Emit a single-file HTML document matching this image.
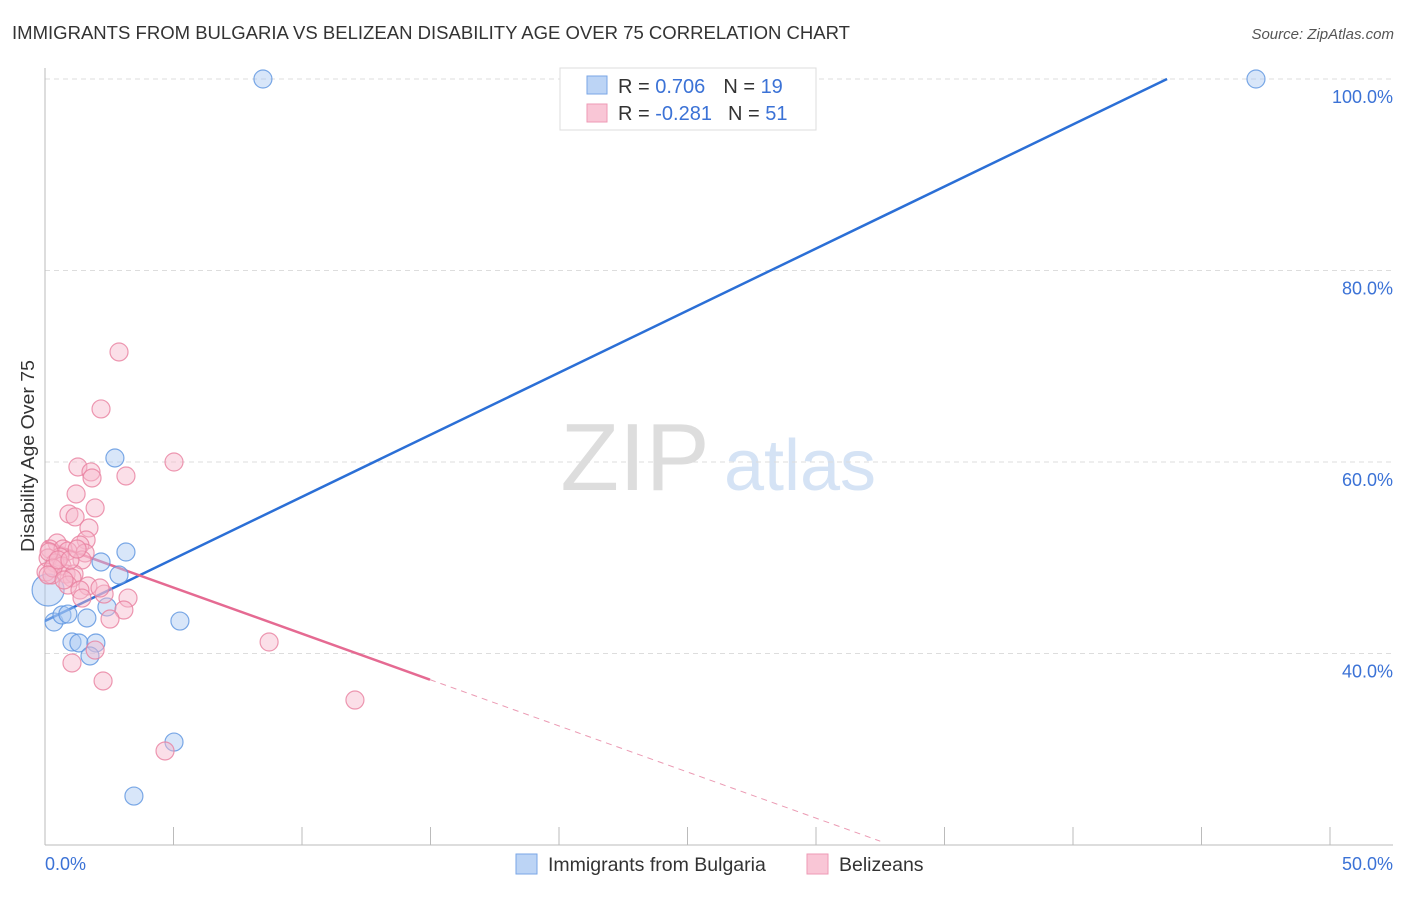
<!DOCTYPE html>
<html><head><meta charset="utf-8"><style>
body{margin:0;background:#fff;font-family:"Liberation Sans",sans-serif}
svg text{font-family:"Liberation Sans",sans-serif}
</style></head><body>
<svg width="1406" height="892" xmlns="http://www.w3.org/2000/svg">
<text x="12" y="39" font-size="18" fill="#333" textLength="838" lengthAdjust="spacingAndGlyphs">IMMIGRANTS FROM BULGARIA VS BELIZEAN DISABILITY AGE OVER 75 CORRELATION CHART</text>
<text x="1394" y="39" font-size="15" fill="#555" font-style="italic" text-anchor="end">Source: ZipAtlas.com</text>
<g>
<text x="635" y="490" font-size="96" fill="#ddd" font-family="Liberation Serif,serif" text-anchor="middle">ZIP</text>
<text x="800" y="490" font-size="72" fill="#d5e3f5" text-anchor="middle">atlas</text>
</g>
<g id="grid"></g>
<g id="axes"></g>
<g id="lines"></g>
<g id="pts"></g>
<text transform="translate(34,456) rotate(-90)" font-size="18" fill="#333" text-anchor="middle" textLength="192" lengthAdjust="spacingAndGlyphs">Disability Age Over 75</text>
<text x="45" y="870" font-size="18" fill="#3b72d6">0.0%</text>
<text x="1393" y="870" font-size="18" fill="#3b72d6" text-anchor="end">50.0%</text>
<g>
<rect x="560" y="68" width="256" height="62" fill="#fff" stroke="#ddd"/>
<rect x="587" y="76" width="20" height="18" fill="#bcd4f5" stroke="#7aa6e6"/>
<rect x="587" y="104" width="20" height="18" fill="#f9c6d6" stroke="#ee9ab5"/>
<text x="618" y="93" font-size="20" fill="#333">R = <tspan fill="#3b72d6">0.706</tspan><tspan dx="18">N = </tspan><tspan fill="#3b72d6">19</tspan></text>
<text x="618" y="120" font-size="20" fill="#333">R = <tspan fill="#3b72d6">-0.281</tspan><tspan dx="16">N = </tspan><tspan fill="#3b72d6">51</tspan></text>
</g>
<g>
<rect x="516" y="854" width="21" height="20" fill="#bcd4f5" stroke="#7aa6e6"/>
<text x="548" y="871" font-size="19.5" fill="#333">Immigrants from Bulgaria</text>
<rect x="807" y="854" width="21" height="20" fill="#f9c6d6" stroke="#ee9ab5"/>
<text x="839" y="871" font-size="19.5" fill="#333">Belizeans</text>
</g>
</svg>
<script>
const blueX=[8.48,47.12,2.72,3.15,2.18,2.88,0.12,0.35,0.66,0.89,1.63,2.41,1.05,1.32,1.98,1.75,5.25,5.02,3.46];
const blueY=[100,100,60.42,50.6,49.56,48.2,46.63,43.29,44.02,44.12,43.71,44.86,41.2,41.1,41.1,39.74,43.39,30.75,25.11];
const pinkX=[2.88,2.18,5.02,1.28,1.79,1.83,3.15,1.21,0.93,1.95,1.17,1.71,1.6,1.36,0.47,0.19,0.7,0.89,0.58,1.56,1.44,0.12,0.39,0.66,0.04,0.27,0.82,1.13,1.05,0.89,1.67,1.36,2.3,3.23,1.44,3.07,2.53,0.16,0.31,0.51,0.97,1.95,1.05,2.26,4.67,8.72,12.06,0.12,0.74,2.14,1.25];
const pinkY=[71.49,65.54,60,59.48,58.96,58.33,58.54,56.66,54.57,55.2,54.26,53.11,51.85,51.33,51.54,50.91,50.91,50.7,50.08,50.5,49.77,49.97,49.45,49.14,48.51,48.2,48.3,48.3,47.89,47.15,47.05,46.63,46.21,45.79,45.79,44.54,43.6,50.6,48.93,49.77,49.77,40.36,39.01,37.13,29.82,41.2,35.14,48.2,47.68,46.84,50.91];
const yTicks=[40,60,80,100];
const yTickLabels=["40.0%","60.0%","80.0%","100.0%"];
const xTicks=[0,5,10,15,20,25,30,35,40,45,50];
const blueTrend=[[0,43.4],[43.66,100]];
const pinkSolid=[[0,51.7],[14.98,37.27]];
const pinkDash=[[14.98,37.27],[32.5,20.4]];
const NS="http://www.w3.org/2000/svg";
const sx=v=>45+v/50*1285, sy=v=>79+(100-v)*9.575;
function mk(t,a,p){const e=document.createElementNS(NS,t);for(const k in a)e.setAttribute(k,a[k]);p.appendChild(e);return e;}
const grid=document.getElementById('grid'),axes=document.getElementById('axes'),lines=document.getElementById('lines'),pts=document.getElementById('pts');
yTicks.forEach((v,i)=>{
 const l=mk('line',{x1:45,x2:1393,y1:sy(v),y2:sy(v),stroke:'#ddd','stroke-dasharray':'5,4'},grid);
 
 
 const t=mk('text',{x:1393,y:sy(v)+24,'font-size':18,fill:'#3b72d6','text-anchor':'end'},grid);
 t.textContent=yTickLabels[i];
 
 
});
const ax=mk('line',{x1:45,x2:45,y1:68,y2:845,stroke:'#bbb'},axes);


const bx=mk('line',{x1:45,x2:1393,y1:845,y2:845,stroke:'#bbb'},axes);


xTicks.forEach(v=>{
 const l=mk('line',{x1:sx(v),x2:sx(v),y1:827,y2:845,stroke:'#bbb'},axes);
 
 
});
function drawPts(X,Y,fill,stroke,name){X.forEach((x,i)=>{
 const c=mk('circle',{cx:sx(x),cy:sy(Y[i]),r:(i==6&&name=='bulgaria-point')?16:9,fill:fill,'fill-opacity':0.45,stroke:stroke,'stroke-opacity':0.8,'stroke-width':1.2},pts);
 
 
});}
drawPts(blueX,blueY,'#a9c8f2','#5b93e0','bulgaria-point');
drawPts(pinkX,pinkY,'#f7b8cc','#e8809f','belizean-point');
function ln(s,st,w,d,name){const l=mk('line',{x1:sx(s[0][0]),y1:sy(s[0][1]),x2:sx(s[1][0]),y2:sy(s[1][1]),stroke:st,'stroke-width':w},lines);if(d)l.setAttribute('stroke-dasharray',d);
 
 }
ln(blueTrend,'#2b6fd6',2.5,null,'bulgaria-trendline');
ln(pinkSolid,'#e56a92',2.5,null,'belizean-trendline');
ln(pinkDash,'#eb9ab3',1,'6,5','belizean-trendline-extension');
</script>
</body></html>
